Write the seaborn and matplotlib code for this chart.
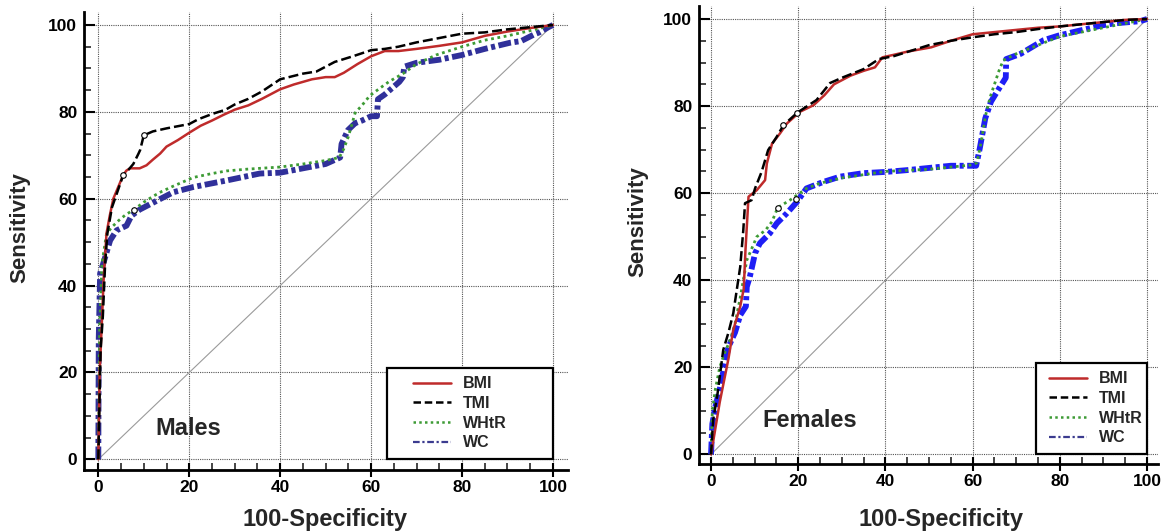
import numpy as np
import pandas as pd
import seaborn as sns
import matplotlib.pyplot as plt
from matplotlib.lines import Line2D
from matplotlib.patches import Rectangle
from matplotlib.ticker import MultipleLocator

sns.set_theme(style='white')
plt.rcParams['font.family'] = ['Liberation Sans', 'DejaVu Sans']
plt.rcParams['font.weight'] = 'bold'

# ---- Males: ROC curves (x = 100-Specificity, y = Sensitivity) ----
m_bmi_x = [0, 0.3, 0.8, 1.2, 1.8, 2.5, 3.3, 4.5, 5.5, 6.2, 7, 9.1, 10.6, 12, 13.6, 15, 17.5, 20,
           22.5, 25, 27.5, 30, 33, 36, 40, 43, 47, 50, 52, 54, 57, 60, 63, 66, 70, 75, 80, 85,
           90, 95, 100]
m_bmi_y = [0, 20, 32, 42, 52, 56, 60, 63, 65.5, 66.5, 67, 67, 67.7, 69, 70.4, 72, 73.5, 75.2,
           76.8, 78, 79.3, 80.5, 81.5, 83, 85.2, 86.3, 87.5, 88, 88, 89, 91, 92.8, 94, 94, 94.5,
           95.2, 96, 97.5, 98.5, 99.3, 100]
m_tmi_x = [0, 0.5, 1, 1.5, 2, 3, 4, 5.5, 6.5, 7.7, 8.8, 9.2, 10, 12, 15, 20, 22, 25, 28, 30, 33,
           36, 40, 45, 48, 52, 56, 60, 63, 66, 70, 75, 80, 85, 90, 95, 100]
m_tmi_y = [0, 25, 33, 45, 52, 58, 61, 65.5, 66.5, 68, 70.3, 71.2, 74.6, 75.5, 76.2, 77.2, 78.3,
           79.5, 80.5, 81.7, 83, 84.7, 87.5, 88.8, 89.3, 91.5, 92.8, 94.2, 94.5, 95, 96, 97, 98,
           98.3, 99, 99.5, 100]
m_whtr_x = [0, 0.3, 0.8, 1.8, 3, 4.5, 6, 7.85, 10, 12.1, 14, 16.5, 20.9, 25, 28.2, 32.6, 40, 45,
            50, 53, 54, 55, 56.5, 58, 59.7, 62, 64, 67, 70, 74.3, 80, 85, 90, 95, 100]
m_whtr_y = [0, 30, 45, 51.9, 53.5, 55, 56.3, 57.5, 59.2, 60.6, 61.7, 62.9, 64.9, 65.8, 66.4,
            66.8, 67.3, 68, 68.8, 69.5, 71.5, 74.3, 79.8, 81.5, 83.7, 85.5, 87, 88.8, 91, 93.1,
            95, 96.5, 97.5, 98.7, 100]
m_wc_x = [0, 0.1, 0.4, 1.5, 2.6, 4, 6.2, 7.3, 9.1, 12.8, 16.5, 20.9, 28.2, 35.5, 40, 45, 50,
          53.2, 53.5, 54.9, 56.5, 58, 60, 61.3, 61.5, 63, 66.2, 67, 67.3, 70, 75, 80, 85, 90.5,
          93, 96, 97, 99, 100]
m_wc_y = [0, 28, 42.8, 46.5, 50.4, 52.7, 53.8, 56.1, 57.5, 59.5, 61.5, 62.7, 64.2, 65.8, 66, 67,
          68, 69.5, 72.6, 75.8, 77.4, 78, 79, 79, 82.9, 84, 86.9, 88, 90.4, 91.3, 92, 93.1, 94.5,
          95.9, 96.3, 97.9, 98.3, 99.5, 100]
m_cut_x = [5.5, 10, 7.85]
m_cut_y = [65.5, 74.6, 57.5]

# ---- Females ----
f_bmi_x = [0, 1, 2, 3, 4, 5.1, 6.7, 7.5, 7.9, 8.6, 10.5, 12.4, 12.8, 14, 15.8, 17.4, 20.4, 23.5,
           26, 28.2, 32, 35, 37.6, 39.3, 42, 45, 50.5, 55, 60, 65, 70, 75, 80, 85, 90, 95, 100]
f_bmi_y = [0, 6, 12, 17, 22, 28.6, 34, 38, 46.9, 59.2, 60.7, 63, 66.8, 71.4, 73.7, 76, 78.7, 80.2,
           82.5, 85, 87, 88.1, 88.9, 91.2, 91.8, 92.5, 93.5, 95, 96.5, 97, 97.5, 98, 98.3, 98.8,
           99.3, 99.8, 100]
f_tmi_x = [0, 0.5, 1.5, 2.8, 4, 5.1, 6.7, 7.4, 7.8, 9.3, 10.1, 11.6, 13.1, 15.1, 16.6, 19.8, 24.2,
           27.3, 30, 35, 38.5, 42, 50, 55, 60, 65, 70, 75, 80, 85, 90, 95, 100]
f_tmi_y = [0, 8, 14, 24, 28, 32.4, 43.1, 51.5, 57.7, 58.4, 61.1, 64.9, 69.9, 73, 75.6, 78.5, 81.4,
           85.3, 86.5, 88.5, 90.8, 91.5, 94, 95, 95.8, 96.5, 97, 97.7, 98.3, 98.8, 99.3, 99.8, 100]
f_whtr_x = [0, 0.3, 1, 2, 3, 4.4, 5.5, 6.7, 8.2, 10.5, 12.5, 14, 15.3, 18.1, 21.9, 25, 30, 40,
            50, 60, 61, 62, 63, 64, 65, 66, 67, 68, 70, 75, 80, 90, 100]
f_whtr_y = [0, 10, 15, 20, 23, 26.3, 30, 36, 44.6, 50, 51.5, 53.5, 56.7, 58.4, 61.1, 62.3, 63.5,
            65, 65.5, 66.5, 67, 72, 78, 82, 85, 88, 90.5, 91, 92, 94, 96, 98, 100]
f_wc_x = [0, 0.3, 1, 2, 3, 4, 5.5, 6.7, 8, 8.2, 8.9, 10.1, 11.2, 13.5, 15.1, 17.4, 19.7, 21.9,
          25.8, 29.6, 34.9, 40.3, 45, 50, 55, 60.8, 61.6, 62.9, 64.2, 65.9, 67.6, 67.7, 71, 76.2,
          79.7, 84.8, 90, 92.5, 98.4, 100]
f_wc_y = [0, 7, 11, 15, 20, 24.7, 28, 32, 34, 38.5, 40.8, 46.2, 48.5, 50.8, 53.1, 55.4, 58, 61.1,
          62.6, 63.8, 64.6, 64.9, 65.3, 65.8, 66.3, 66.3, 70.1, 77.2, 81, 83.8, 86.5, 90.8, 92,
          95.1, 96.2, 97.4, 98.6, 99, 99.5, 100]
f_cut_x = [16.6, 19.8, 15.3, 19.5]
f_cut_y = [75.6, 78.5, 56.7, 58.6]

diag = [0, 100]
labels = ['BMI', 'TMI', 'WHtR', 'WC']

red = '#bf2b2b'
green = '#3d9b35'
navy = '#30309a'
bright_blue = '#1e1ef5'

styles = {
    'BMI': dict(color=red, linestyle='-', linewidth=1.8),
    'TMI': dict(color='black', linestyle=(0, (4, 1.6)), linewidth=1.8),
    'WHtR': dict(color=green, linestyle=(0, (1, 1.3)), linewidth=2.0),
}

fig = plt.figure(figsize=(11.66, 5.32), dpi=100)
ax_m = fig.add_axes([0.0723, 0.1165, 0.4148, 0.861])
ax_f = fig.add_axes([0.5997, 0.1278, 0.3934, 0.861])


def draw_panel(ax, series, wc_color, cut_x, cut_y, xlim, ylim, title, title_xy,
               box_x0, leg_x, ylab_x, xlab_xy):
    ax.plot(diag, diag, color='#9a9a9a', lw=0.8, zorder=1.5)
    for name, (xs, ys) in series.items():
        df = pd.DataFrame({'x': xs, 'y': ys})
        if name == 'WC':
            sns.lineplot(data=df, x='x', y='y', ax=ax, sort=False, estimator=None,
                         color=wc_color, linewidth=4.2,
                         linestyle=(0, (2.2, 0.6, 0.7, 0.6)), zorder=2.2)
        else:
            sns.lineplot(data=df, x='x', y='y', ax=ax, sort=False, estimator=None,
                         zorder=2.5, **styles[name])
    ax.scatter(cut_x, cut_y, s=16, facecolor='white', edgecolor='black', lw=0.8, zorder=4)

    ax.set_xlim(*xlim)
    ax.set_ylim(*ylim)
    ax.xaxis.set_major_locator(MultipleLocator(20))
    ax.xaxis.set_minor_locator(MultipleLocator(5))
    ax.yaxis.set_major_locator(MultipleLocator(20))
    ax.yaxis.set_minor_locator(MultipleLocator(5))
    ax.grid(True, which='major', color='#555555', linestyle=(0, (1, 1)), linewidth=0.8)
    ax.set_axisbelow(True)
    for s in ['top', 'right']:
        ax.spines[s].set_visible(False)
    for s in ['left', 'bottom']:
        ax.spines[s].set_linewidth(2)
        ax.spines[s].set_color('black')
    ax.tick_params(axis='x', which='major', direction='inout', length=10, width=1.5,
                   labelsize=12.5, pad=2, colors='black')
    ax.tick_params(axis='y', which='major', direction='in', length=8, width=1.5,
                   labelsize=12.5, pad=5, colors='black')
    ax.tick_params(which='minor', direction='in', length=5, width=1.2, bottom=True, left=True)
    ax.tick_params(bottom=True, left=True)
    for lab in ax.get_xticklabels() + ax.get_yticklabels():
        lab.set_fontweight('bold')

    ax.set_xlabel('100-Specificity', fontsize=17, fontweight='bold')
    ax.set_ylabel('Sensitivity', fontsize=16, fontweight='bold')
    ax.xaxis.set_label_coords(*xlab_xy)
    ax.yaxis.set_label_coords(ylab_x, 0.53)

    ax.text(title_xy[0], title_xy[1], title, fontsize=17, fontweight='bold',
            ha='center', va='center')

    box = Rectangle((box_x0, 0), 100 - box_x0, 21, facecolor='white', edgecolor='black',
                    linewidth=1.6, zorder=5)
    ax.add_patch(box)
    handles = [
        Line2D([], [], color=red, lw=1.8),
        Line2D([], [], color='black', lw=1.8, linestyle=(0, (3, 1.5))),
        Line2D([], [], color=green, lw=1.8, linestyle=(0, (1, 1.3))),
        Line2D([], [], color='#3b3b8f', lw=1.6, linestyle=(0, (3, 1.2, 1, 1.2))),
    ]
    leg = ax.legend(handles, labels, loc='center left', bbox_to_anchor=(leg_x, 10.6),
                    bbox_transform=ax.transData, frameon=False, borderpad=0,
                    borderaxespad=0, handlelength=2.4, handletextpad=0.75,
                    labelspacing=0.3, prop={'size': 11.5, 'weight': 'bold'})
    leg.set_zorder(6)


draw_panel(ax_m,
           {'WC': (m_wc_x, m_wc_y), 'WHtR': (m_whtr_x, m_whtr_y),
            'BMI': (m_bmi_x, m_bmi_y), 'TMI': (m_tmi_x, m_tmi_y)},
           navy, m_cut_x, m_cut_y, (-3.08, 103.3), (-2.46, 103), 'Males', (19.7, 7.0),
           63.4, 69.2, -0.112, (0.498, -0.083))
draw_panel(ax_f,
           {'WC': (f_wc_x, f_wc_y), 'WHtR': (f_whtr_x, f_whtr_y),
            'BMI': (f_bmi_x, f_bmi_y), 'TMI': (f_tmi_x, f_tmi_y)},
           bright_blue, f_cut_x, f_cut_y, (-2.7, 102.5), (-2.2, 103), 'Females', (22.7, 7.9),
           74.6, 77.4, -0.112, (0.527, -0.096))

fig.savefig('out.png', dpi=100)
